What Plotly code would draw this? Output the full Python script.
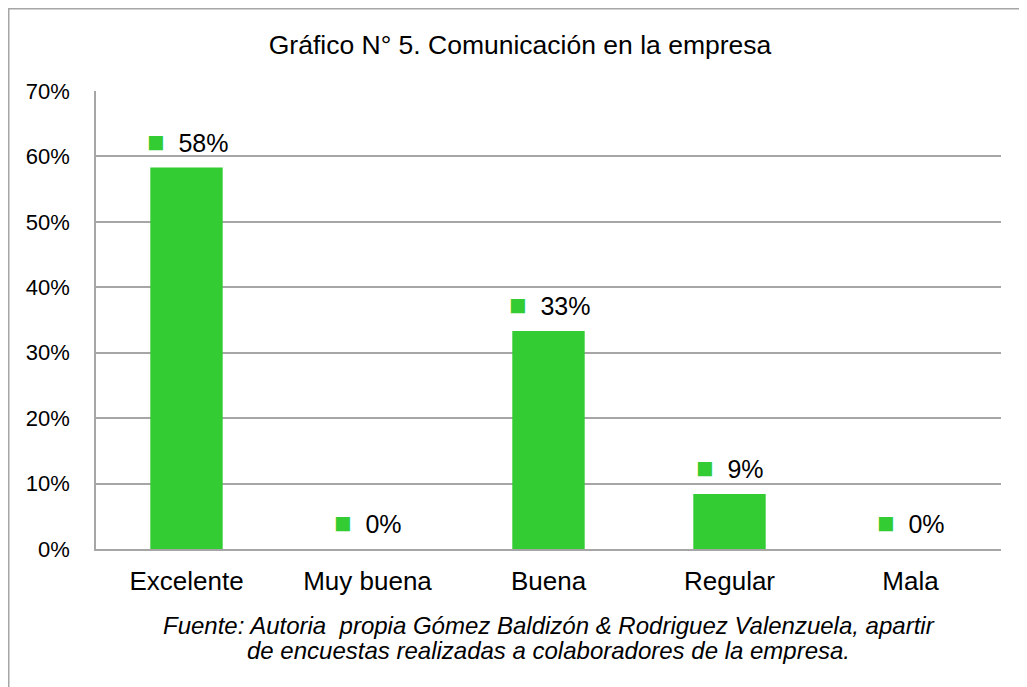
import plotly.graph_objects as go

categorias = ["Excelente", "Muy buena", "Buena", "Regular", "Mala"]
porcentajes = [58.3, 0, 33.3, 8.4, 0]
etiquetas = ["58%", "0%", "33%", "9%", "0%"]
ticks_y = [0, 10, 20, 30, 40, 50, 60, 70]

VERDE = "#33CC33"
GRIS = "#A6A6A6"
FUENTE = "Liberation Sans, Arial, sans-serif"

# la página deja 8 px de margen al cuerpo
W, H = 1019, 679
ML, MR, MT, MB = 88, 26, 83, 138
pw, ph = W - ML - MR, H - MT - MB

fig = go.Figure()

fig.add_trace(go.Bar(
    x=categorias,
    y=porcentajes,
    marker=dict(color=VERDE, line=dict(width=0)),
    width=0.4,
    hoverinfo="skip",
))

# etiquetas de datos con el cuadrito verde de la leyenda
for cat, val, lab in zip(categorias, porcentajes, etiquetas):
    fig.add_annotation(
        x=cat, y=val, xref="x", yref="y",
        text=f"<span style='color:{VERDE};font-size:29px'>■</span>\u00a0\u00a0{lab}",
        showarrow=False, yanchor="middle", yshift=26, xshift=0.5,
        font=dict(family=FUENTE, size=25, color="#000000"),
    )

fuente_lineas = [
    "Fuente: Autoria  propia Gómez Baldizón & Rodriguez Valenzuela, apartir",
    "de encuestas realizadas a colaboradores de la empresa.",
]
for i, linea in enumerate(fuente_lineas):
    fig.add_annotation(
        x=0.5, y=-(76 + 25 * i) / ph, xref="paper", yref="paper",
        text=f"<i>{linea}</i>",
        showarrow=False, xanchor="center", yanchor="middle",
        font=dict(family=FUENTE, size=24, color="#000000"),
    )

# marco exterior del gráfico
fig.add_shape(
    type="rect", xref="paper", yref="paper",
    x0=(0.75 - ML) / pw, x1=(W + 5 - ML) / pw,
    y0=-(MB + 5) / ph, y1=(ph + MT - 0.75) / ph,
    line=dict(color=GRIS, width=1.5), fillcolor="rgba(0,0,0,0)", layer="below",
)

fig.update_layout(
    width=W, height=H,
    margin=dict(l=ML, r=MR, t=MT, b=MB),
    paper_bgcolor="white", plot_bgcolor="white",
    showlegend=False,
    title=dict(
        text="Gráfico N° 5. Comunicación en la empresa",
        x=512 / W, xanchor="center", xref="container",
        y=1 - 37 / H, yanchor="middle", yref="container",
        font=dict(family=FUENTE, size=26.5, color="#000000"),
    ),
    font=dict(family=FUENTE, color="#000000"),
)

fig.update_yaxes(
    range=[0, 70],
    tickvals=ticks_y,
    ticktext=[f"{v}%" for v in ticks_y],
    showgrid=True, gridcolor=GRIS, gridwidth=1.5,
    showline=True, linecolor=GRIS, linewidth=1.5,
    zeroline=False, ticks="", ticklabelstandoff=20,
    tickfont=dict(family=FUENTE, size=22, color="#000000"),
    fixedrange=True,
)
fig.update_xaxes(
    showline=True, linecolor=GRIS, linewidth=1.5,
    showgrid=False, ticks="", ticklabelstandoff=8,
    tickfont=dict(family=FUENTE, size=26, color="#000000"),
    fixedrange=True,
)

fig.write_html("out.html")
